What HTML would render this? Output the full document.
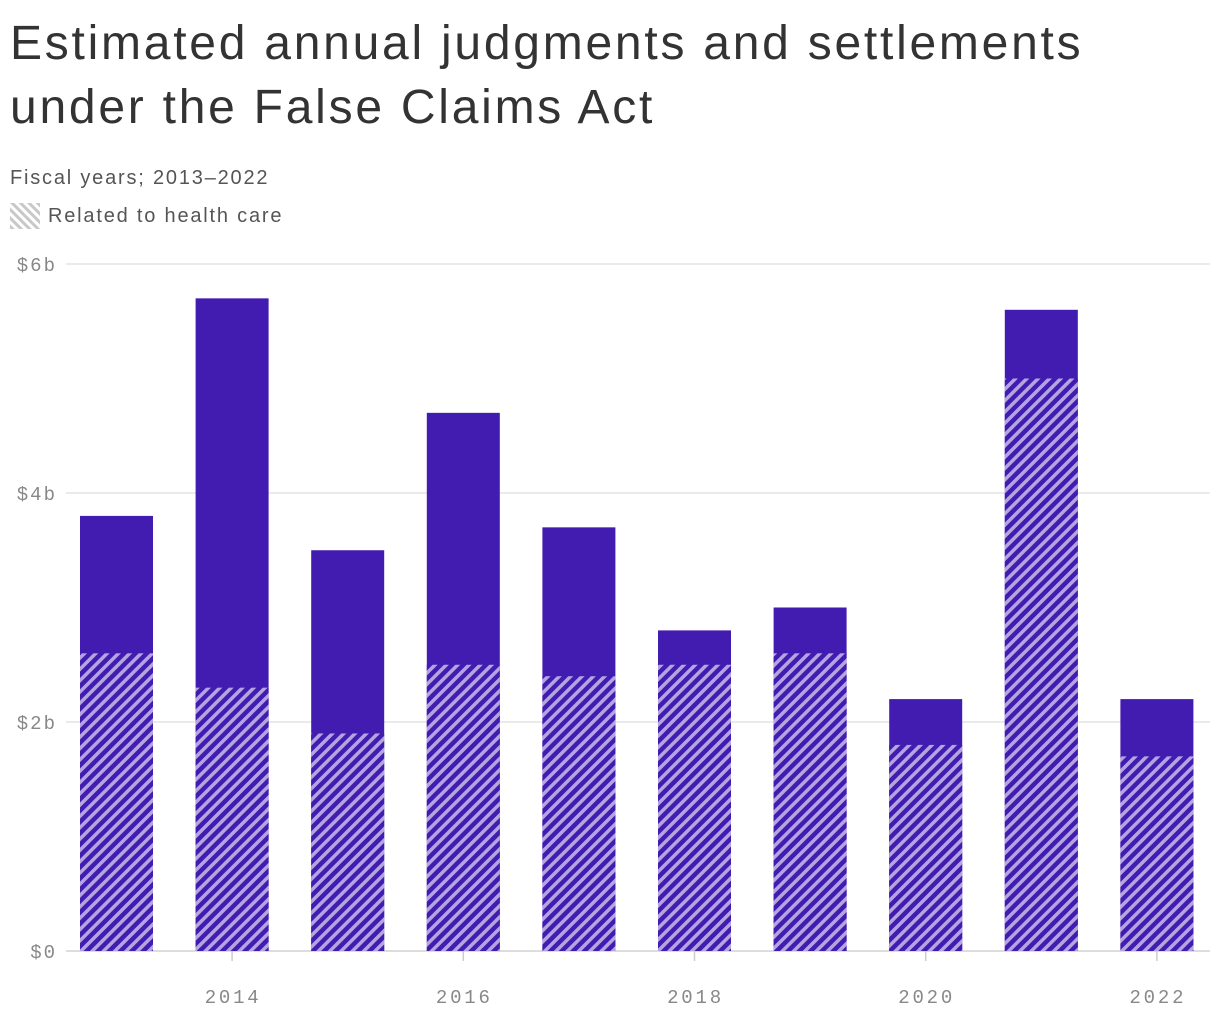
<!DOCTYPE html>
<html><head><meta charset="utf-8"><style>
body{margin:0;background:#fff;width:1220px;height:1020px;overflow:hidden;font-family:"Liberation Sans",sans-serif}
h1{position:absolute;left:10px;top:12px;margin:0;font-size:48px;font-weight:400;line-height:64px;color:#333;letter-spacing:2.75px}
.sub{position:absolute;left:10px;top:167px;font-size:20px;color:#555;letter-spacing:1.8px}
.leg{position:absolute;left:10px;top:203px;font-size:20px;color:#555;display:flex;align-items:center;letter-spacing:1.8px}
</style></head><body>
<h1>Estimated annual judgments and settlements<br>under the False Claims Act</h1>
<div class="sub">Fiscal years; 2013–2022</div>
<div class="leg"><svg width="30" height="26" style="margin-right:8px"><defs><pattern id="lp" width="6" height="6" patternUnits="userSpaceOnUse" patternTransform="rotate(-45)"><rect width="6" height="6" fill="#fff"/><rect width="3" height="6" fill="#c8c8c8"/></pattern></defs><rect x="0" y="0" width="30" height="26" fill="url(#lp)"/></svg>Related to health care</div>
<svg id="chart" width="1220" height="1020" style="position:absolute;left:0;top:0">
<defs><pattern id="hp" width="8" height="8" patternUnits="userSpaceOnUse" patternTransform="rotate(45)"><rect width="8" height="8" fill="#421bb1"/><rect width="3.5" height="8" fill="#b3a6e0"/></pattern></defs>
</svg>
<script>
const years=[2013,2014,2015,2016,2017,2018,2019,2020,2021,2022];
const totals=[3.8,5.7,3.5,4.7,3.7,2.8,3.0,2.2,5.6,2.2];
const health=[2.6,2.3,1.9,2.5,2.4,2.5,2.6,1.8,5.0,1.7];
const yTicks=[0,2,4,6];
const xTicks=[2014,2016,2018,2020,2022];
const svg=document.getElementById('chart');
const NS='http://www.w3.org/2000/svg';
const y=v=>951-v*114.5;
const x=yr=>116.5+(yr-2013)*115.6;
const bw=73;
function mk(t,a){const e=document.createElementNS(NS,t);for(const k in a)e.setAttribute(k,a[k]);svg.appendChild(e);return e;}
yTicks.forEach(v=>{
 const l=mk('line',{x1:66,x2:1210,y1:y(v),y2:y(v),stroke:v===0?'#ddd':'#e4e4e4','stroke-width':v===0?2:1.5});
 
 
 const t=mk('text',{x:57,y:y(v)+7,'text-anchor':'end','font-family':'Liberation Mono, monospace','font-size':19,'letter-spacing':2,fill:'#888'});
 t.textContent='$'+v+(v?'b':'');
 
 
});
years.forEach((yr,i)=>{
 const cx=x(yr);
 const r=mk('rect',{x:cx-bw/2,y:y(totals[i]),width:bw,height:y(0)-y(totals[i]),fill:'#421bb1'});
 
 
 const h=mk('rect',{x:cx-bw/2,y:y(health[i]),width:bw,height:y(0)-y(health[i]),fill:'url(#hp)'});
 
 
});
xTicks.forEach(yr=>{
 const l=mk('line',{x1:x(yr),x2:x(yr),y1:951,y2:961,stroke:'#ccc','stroke-width':1.5});
 
 
 const t=mk('text',{x:x(yr)+1,y:1003,'text-anchor':'middle','font-family':'Liberation Mono, monospace','font-size':19,'letter-spacing':2.8,fill:'#888'});
 t.textContent=yr;
 
 
});
</script>
</body></html>
